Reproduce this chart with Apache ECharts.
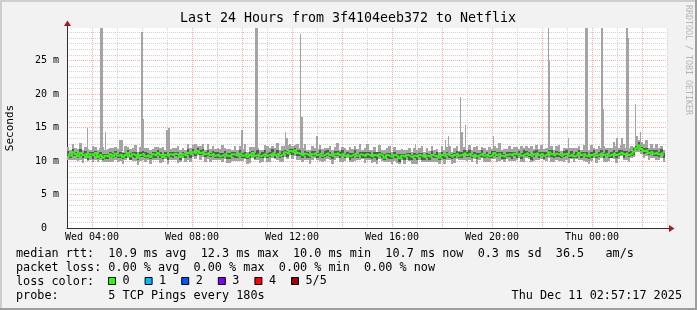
<!DOCTYPE html>
<html><head><meta charset="utf-8">
<script src="https://cdn.jsdelivr.net/npm/echarts@6/dist/echarts.min.js"></script>
<style>html,body{margin:0;padding:0;background:#f2f2f2}#c{width:697px;height:310px}</style>
</head><body><div id="c"></div><script>
// ---- time axis (hours of Wed, continuing past midnight) ----
const startHour = 3, endHour = 27;
const binHours = 0.09967;           // one smoke bin (~6 min)
const xLabelHours = [4, 8, 12, 16, 20, 24];
const xLabelTexts = ['Wed 04:00', 'Wed 08:00', 'Wed 12:00', 'Wed 16:00', 'Wed 20:00', 'Thu 00:00'];
const yMax = 29.85;
const yMajorStep = 5;
const yMinorStep = 5 / 6;

// ---- median rtt (ms) per bin ----
const medianRtt = [
 11.1,10.8,11.3,11.0,10.7,11.2,10.9,11.1,10.6,11.0,10.8,11.2,10.6,10.9,10.5,10.8,10.6,11.0,10.7,11.1,
 10.8,11.0,10.6,10.9,11.2,10.7,11.0,10.8,10.5,10.9,11.1,10.7,10.9,10.6,11.0,10.8,11.2,10.9,10.6,10.9,
 10.7,11.0,10.8,11.1,10.9,10.6,11.0,10.8,11.2,11.0,11.3,11.1,11.5,11.2,11.4,11.0,11.2,10.9,11.1,10.8,
 11.0,10.7,10.9,11.1,10.8,10.6,11.0,10.9,10.7,11.1,10.8,11.0,10.6,10.9,11.2,10.8,11.0,10.7,10.9,11.1,
 10.8,11.0,11.2,10.9,11.1,10.8,11.0,11.3,11.1,11.5,11.3,11.6,11.2,11.0,10.8,11.1,10.9,10.7,11.0,11.2,
 10.9,11.1,10.8,11.0,11.2,10.9,10.7,11.0,11.2,10.9,11.1,10.8,11.0,10.7,10.9,11.1,10.8,11.0,10.9,10.7,
 11.0,10.8,10.6,10.9,10.7,11.0,10.8,10.5,10.9,10.7,10.6,10.9,10.7,10.4,10.8,10.6,10.9,10.7,10.5,10.8,
 10.6,10.9,10.7,10.5,10.8,10.6,10.9,10.7,10.8,10.5,10.9,10.7,11.0,10.8,10.6,10.9,11.1,10.8,11.0,11.2,
 10.9,11.1,10.8,11.0,10.7,10.9,11.1,10.8,11.0,10.7,10.9,11.2,10.9,11.1,10.8,10.6,10.9,11.0,10.8,11.1,
 10.9,11.1,10.8,11.0,11.2,10.9,10.7,11.0,11.2,10.9,11.1,10.8,11.0,11.3,11.0,10.8,11.1,10.9,10.7,11.0,
 11.1,10.8,11.0,10.7,10.9,11.2,10.9,11.1,10.8,10.6,10.9,11.1,10.8,11.0,11.2,10.9,11.1,10.8,11.0,11.2,
 10.9,11.1,11.3,11.0,11.2,10.9,11.1,11.4,11.9,12.3,11.8,11.5,11.6,11.2,11.4,11.1,11.3,11.0,11.2,10.9
];
// ---- smoke: fastest ping (ms) ----
const pingMin = [
 10.2,10.1,10.2,10.2,10.0,10.2,9.7,10.3,10.0,10.1,9.8,10.1,9.9,10.1,9.9,9.8,9.8,9.9,9.8,10.1,
 9.9,10.0,9.5,10.2,10.4,10.1,10.0,10.0,9.4,10.0,10.1,9.8,10.2,9.5,10.2,10.1,10.2,9.7,9.8,10.3,
 9.6,10.2,10.1,10.1,9.7,9.8,10.4,9.9,10.2,9.9,10.6,10.3,10.9,10.2,10.6,9.9,10.3,9.9,10.2,10.1,
 10.2,10.1,9.9,10.3,9.7,9.7,10.0,10.0,10.0,10.0,10.0,10.3,9.6,9.7,10.4,10.2,10.1,9.7,9.8,10.4,
 9.8,9.8,10.4,10.3,10.2,9.8,9.9,10.6,10.3,10.9,10.3,10.8,10.1,10.1,9.8,10.2,10.2,9.6,10.2,10.5,
 10.1,10.0,9.9,10.0,10.3,10.2,9.6,10.2,10.5,9.9,9.9,10.0,10.4,9.8,9.9,10.0,10.1,10.2,10.3,9.7,
 10.2,10.2,9.7,9.9,9.6,10.3,10.0,9.9,9.9,9.9,9.5,10.0,9.7,9.5,10.1,9.5,10.1,10.0,9.5,9.6,
 9.5,10.2,9.9,9.9,9.8,9.8,9.8,9.8,9.8,9.6,10.2,9.6,10.2,10.1,9.6,9.7,10.3,10.2,10.1,10.2,
 10.0,10.1,9.9,10.3,9.6,10.1,10.4,9.8,9.8,9.9,10.3,10.3,9.9,10.0,10.1,9.8,10.3,10.0,10.0,10.0,
 10.1,10.4,9.8,9.8,10.4,10.3,9.8,10.0,10.1,10.2,10.3,10.2,10.0,10.5,9.9,9.9,10.1,10.0,10.0,9.9,
 10.1,9.7,10.3,9.9,10.3,10.2,10.1,10.0,9.9,9.6,10.0,10.4,9.7,10.2,10.5,9.9,9.9,10.0,10.4,10.3,
 9.7,10.3,10.7,10.1,10.2,9.8,10.4,10.6,11.3,11.3,11.0,10.4,10.7,10.2,10.5,10.4,10.2,10.2,10.5,9.9
];
// ---- smoke: 2nd ping ----
const pingLow = [
 10.8,10.4,10.8,10.7,10.4,10.8,10.4,10.8,10.2,10.7,10.3,10.8,10.3,10.5,10.2,10.3,10.3,10.6,10.4,10.6,
 10.4,10.5,10.3,10.5,10.9,10.2,10.6,10.5,10.1,10.6,10.6,10.4,10.5,10.3,10.5,10.5,10.8,10.4,10.3,10.6,
 10.2,10.6,10.5,10.7,10.6,10.1,10.7,10.4,10.9,10.5,11.0,10.7,11.0,10.9,11.1,10.6,10.7,10.6,10.7,10.5,
 10.5,10.4,10.5,10.8,10.3,10.3,10.6,10.4,10.4,10.8,10.4,10.5,10.3,10.5,10.9,10.3,10.6,10.4,10.5,10.8,
 10.5,10.6,10.9,10.4,10.7,10.5,10.6,11.0,10.6,11.2,10.9,11.3,10.7,10.7,10.5,10.7,10.4,10.4,10.7,10.8,
 10.4,10.8,10.5,10.6,10.7,10.6,10.3,10.7,10.7,10.5,10.8,10.4,10.7,10.2,10.5,10.8,10.4,10.7,10.4,10.4,
 10.5,10.5,10.3,10.5,10.2,10.7,10.4,10.2,10.4,10.3,10.3,10.5,10.4,9.9,10.5,10.2,10.6,10.2,10.2,10.4,
 10.2,10.6,10.2,10.2,10.4,10.1,10.6,10.4,10.4,10.2,10.4,10.3,10.7,10.4,10.3,10.4,10.8,10.4,10.5,10.9,
 10.6,10.6,10.4,10.7,10.3,10.6,10.6,10.5,10.6,10.4,10.4,10.8,10.6,10.7,10.3,10.3,10.6,10.6,10.3,10.8,
 10.5,10.8,10.3,10.7,10.8,10.6,10.2,10.6,10.9,10.5,10.8,10.3,10.6,11.0,10.6,10.5,10.6,10.6,10.4,10.6,
 10.8,10.4,10.5,10.4,10.5,10.9,10.4,10.8,10.4,10.3,10.4,10.7,10.5,10.6,10.9,10.4,10.8,10.4,10.5,10.9,
 10.4,10.8,10.9,10.5,10.9,10.6,10.7,10.9,11.6,11.9,11.5,11.0,11.2,10.9,11.0,10.8,10.8,10.6,10.9,10.5
];
// ---- smoke: 4th ping ----
const pingHigh = [
 11.5,11.1,11.8,11.3,11.1,11.8,11.2,11.5,11.1,11.3,11.3,11.5,11.0,11.3,11.1,11.1,11.1,11.3,11.2,11.5,
 11.1,11.4,11.2,11.2,11.6,11.2,11.3,11.3,10.8,11.3,11.5,11.3,11.2,11.1,11.3,11.3,11.6,11.3,10.9,11.4,
 11.0,11.4,11.3,11.4,11.4,10.9,11.4,11.2,11.8,11.3,11.8,11.4,12.0,11.6,11.8,11.3,11.7,11.2,11.5,11.4,
 11.3,11.2,11.2,11.5,11.2,11.2,11.3,11.4,11.0,11.6,11.2,11.4,10.9,11.4,11.5,11.2,11.6,11.0,11.3,11.6,
 11.2,11.4,11.8,11.2,11.6,11.1,11.5,11.7,11.5,11.8,11.8,11.9,11.6,11.6,11.1,11.5,11.4,11.0,11.5,11.5,
 11.2,11.6,11.1,11.5,11.6,11.3,11.0,11.5,11.5,11.3,11.7,11.1,11.4,11.2,11.2,11.6,11.1,11.4,11.3,11.3,
 11.3,11.3,10.9,11.3,11.3,11.3,11.2,11.0,11.2,11.2,10.9,11.3,11.1,11.0,11.1,11.1,11.2,11.2,10.9,11.2,
 11.1,11.2,11.2,10.8,11.2,11.0,11.5,11.0,11.3,10.8,11.4,11.1,11.4,11.1,11.1,11.2,11.5,11.4,11.3,11.6,
 11.3,11.7,11.1,11.4,11.2,11.2,11.6,11.1,11.4,11.1,11.5,11.5,11.4,11.4,11.3,11.0,11.3,11.3,11.3,11.4,
 11.2,11.5,11.2,11.6,11.5,11.4,11.0,11.5,11.6,11.3,11.4,11.3,11.3,11.7,11.6,11.1,11.5,11.4,11.0,11.5,
 11.7,11.1,11.5,11.0,11.4,11.6,11.3,11.4,11.3,10.9,11.3,11.7,11.1,11.4,11.7,11.2,11.6,11.1,11.4,11.6,
 11.3,11.6,11.6,11.5,11.5,11.3,11.5,12.0,12.2,12.8,12.1,12.0,12.0,11.6,11.7,11.6,11.6,11.4,11.8,11.2
];
// ---- smoke: slowest ping (ms) ----
const pingMax = [
 12.1,11.6,12.6,11.9,11.8,12.7,11.7,12.1,11.8,11.7,12.2,12.1,11.7,11.9,12.1,11.6,11.8,11.9,12.0,12.1,
 11.8,12.2,11.3,12.3,12.1,11.8,12.0,12.4,11.3,12.1,12.0,12.0,11.9,11.6,11.8,12.1,12.1,12.0,12.1,11.7,
 12.3,11.8,12.0,12.0,12.2,11.6,12.0,11.6,12.5,11.9,12.4,12.6,12.3,12.2,12.6,11.7,12.6,11.8,12.2,11.8,
 11.9,11.8,12.4,11.9,11.8,11.8,11.7,12.3,11.6,12.2,11.8,12.6,11.4,12.1,12.1,12.1,12.0,11.7,11.7,12.4,
 12.2,11.9,12.3,11.9,12.7,11.6,12.2,12.2,12.4,12.5,12.3,12.4,12.5,11.9,11.9,12.6,11.7,11.7,12.2,11.9,
 11.8,12.4,11.8,12.0,12.0,12.2,11.6,12.1,12.7,11.7,12.1,12.0,11.7,12.1,11.8,12.2,11.8,12.6,11.7,11.9,
 12.5,11.6,11.6,12.1,11.4,12.4,11.7,11.6,11.9,12.3,11.4,12.1,11.6,11.7,11.8,11.6,11.7,12.0,11.4,11.9,
 11.7,11.9,12.3,11.3,12.0,11.5,12.2,11.7,11.8,11.3,12.2,11.6,12.1,12.3,11.4,11.9,12.3,11.5,12.4,12.1,
 11.7,12.4,11.7,12.1,12.2,11.7,12.1,12.0,11.7,12.1,11.8,12.3,11.9,12.7,11.6,11.8,11.8,12.3,11.8,12.1,
 12.1,11.8,12.2,11.9,12.3,11.9,12.3,11.8,12.4,11.8,12.4,11.8,12.0,12.1,12.3,11.7,12.2,12.4,11.5,12.0,
 11.9,12.0,11.9,12.0,11.9,12.2,11.7,12.4,11.7,11.7,12.4,11.9,11.8,12.2,11.9,12.3,12.0,11.9,12.0,12.8,
 12.2,12.0,12.4,12.5,12.0,11.9,12.3,12.1,13.3,13.2,12.9,12.5,13.2,12.0,12.6,12.0,12.6,12.0,12.2,11.7
];
// ---- isolated slow pings: [from hour, to hour, rtt ms] ----
const spikes = [
 [3.78,3.82,14.9],[4.32,4.44,29.85],[4.52,4.56,14.3],[5.08,5.24,13.1],
 [5.97,6.03,29.2],[6.03,6.08,16.3],[6.95,7.04,14.6],[7.04,7.10,14.9],
 [9.97,10.03,14.6],[10.52,10.63,29.85],[11.72,11.77,14.3],[11.77,11.83,13.5],
 [12.32,12.37,29.0],[12.37,12.44,16.5],[12.96,13.04,13.8],[16.92,16.96,12.5],
 [18.12,18.16,13.1],[18.24,18.28,13.7],[18.72,18.77,19.5],[18.77,18.84,14.3],
 [18.92,18.96,15.3],[20.03,20.08,13.7],[22.23,22.29,29.85],[22.29,22.33,24.9],
 [23.03,23.08,13.5],[23.71,23.84,29.85],[24.36,24.44,29.85],[24.44,24.48,17.7],
 [24.95,25.05,13.4],[25.15,25.24,13.4],[25.36,25.44,29.85],[25.44,25.49,28.4],
 [25.71,25.76,18.5],[25.76,25.84,13.8],[25.92,25.97,14.3],[26.16,26.24,13.1]
];
const spikeBase = 11.5;
// ---- legend / statistics ----
const lossLabels = ['0','1','2','3','4','5/5'];
const lossColors = ['#26ff00','#00b8ff','#0059ff','#7e00ff','#ff0000','#a10000'];
const rttStats = [10.9, 12.3, 10.0, 10.7, 0.3, 36.5]; // avg max min now sd am/s
const lossStats = [0, 0, 0, 0];                        // avg max min now
const titleText = 'Last 24 Hours from 3f4104eeb372 to Netflix';
const probeText = '5 TCP Pings every 180s';
const dateText = 'Thu Dec 11 02:57:17 2025';

// ---- build ----
const MONO = '"DejaVu Sans Mono", monospace';
const binStart = medianRtt.map((_, i) => startHour + i * binHours);
const outerRows = binStart.map((t, i) => [t, t + binHours, pingMin[i], pingMax[i]]);
const innerRows = binStart.map((t, i) => [t, t + binHours, pingLow[i], pingHigh[i]]);
const spikeRows = spikes.map(s => [s[0], s[1], spikeBase, s[2]]);
const medianRows = binStart.map((t, i) => [t + binHours / 2, medianRtt[i]]);

function rectItem(params, api) {
  const a = api.coord([api.value(0), api.value(3)]);
  const b = api.coord([api.value(1), api.value(2)]);
  const x0 = Math.round(a[0]), x1 = Math.round(b[0]);
  const y0 = Math.round(a[1]), y1 = Math.round(b[1]);
  return { type: 'rect', shape: { x: x0, y: y0, width: Math.max(1, x1 - x0), height: Math.max(1, y1 - y0) },
           style: { fill: api.visual('color') } };
}
const f1 = v => v.toFixed(1), f2 = v => v.toFixed(2);
const line1 = 'median rtt:  ' + f1(rttStats[0]) + ' ms avg  ' + f1(rttStats[1]) + ' ms max  ' + f1(rttStats[2]) +
  ' ms min  ' + f1(rttStats[3]) + ' ms now  ' + f1(rttStats[4]) + ' ms sd  ' + f1(rttStats[5]) + '   am/s';
const line2 = 'packet loss: ' + f2(lossStats[0]) + ' % avg  ' + f2(lossStats[1]) + ' % max  ' + f2(lossStats[2]) +
  ' % min  ' + f2(lossStats[3]) + ' % now';
const line4 = 'probe:       ' + probeText;

const chart = echarts.init(document.getElementById('c'), null, { renderer: 'canvas' });
const series = [
  { type: 'custom', name: 'spikes', renderItem: rectItem, data: spikeRows, itemStyle: { color: '#a4a4a4' }, silent: true, clip: true },
  { type: 'custom', name: 'outer', renderItem: rectItem, data: outerRows, itemStyle: { color: '#a4a4a4' }, silent: true, clip: true },
  { type: 'custom', name: 'inner', renderItem: rectItem, data: innerRows, itemStyle: { color: '#585858' }, silent: true, clip: true },
  { type: 'line', name: lossLabels[0], data: medianRows, showSymbol: false, symbol: 'none', step: 'middle',
    lineStyle: { color: lossColors[0], width: 2 }, itemStyle: { color: lossColors[0] }, silent: true }
];
for (let i = 1; i < lossLabels.length; i++) {
  series.push({ type: 'line', name: lossLabels[i], data: [], itemStyle: { color: lossColors[i] }, lineStyle: { color: lossColors[i] } });
}

const RED = '#ffa8a8', GREY = '#d2d2d2';
chart.setOption({
  animation: false,
  backgroundColor: '#f2f2f2',
  grid: { left: 67, top: 28, width: 600, height: 200, show: true, backgroundColor: '#ffffff', borderWidth: 0 },
  legend: {
    data: lossLabels, left: 108, top: 275, padding: 0, itemGap: 15, itemWidth: 7, itemHeight: 7,
    icon: 'rect', selectedMode: false,
    itemStyle: { borderColor: '#000', borderWidth: 1 },
    textStyle: { fontFamily: MONO, fontSize: 11.8, color: '#000', padding: [0, 0, 0, 2] }
  },
  xAxis: [
    { type: 'value', position: 'bottom', min: startHour, max: endHour, interval: 1,
      axisLine: { show: true, onZero: false, lineStyle: { color: '#303030', width: 1 } },
      axisTick: { show: false },
      axisLabel: { margin: 4, fontFamily: MONO, fontSize: 10, color: '#000', hideOverlap: false,
        formatter: v => { const k = xLabelHours.indexOf(Math.round(v)); return k >= 0 ? xLabelTexts[k] : ''; } },
      // hourly grid: odd hours grey, even hours red (colours alternate from 03:00)
      splitLine: { show: true, showMinLine: true, showMaxLine: true, lineStyle: { color: [GREY, RED], type: [1, 1], width: 1 } } }
  ],
  yAxis: [
    { type: 'value', position: 'left', min: 0, max: yMax, interval: yMajorStep, z: 1,
      axisLine: { show: true, lineStyle: { color: '#303030', width: 1 } },
      axisTick: { show: false },
      axisLabel: { margin: 8, fontFamily: MONO, fontSize: 10, color: '#000', showMaxLabel: false,
        formatter: v => (v === 0 ? '0  ' : (Math.abs(v % yMajorStep) < 1e-6 ? Math.round(v) + ' m' : '')) },
      splitLine: { show: true, showMinLine: false, showMaxLine: false, lineStyle: { color: RED, type: [1, 1], width: 1 } } },
    { type: 'value', position: 'right', min: 0, max: yMax, interval: yMinorStep, z: 0,
      axisLine: { show: false }, axisTick: { show: false }, axisLabel: { show: false },
      splitLine: { show: true, showMinLine: false, showMaxLine: false, lineStyle: { color: GREY, type: [1, 1], width: 1 } } }
  ],
  series: series
});

const pTop = chart.convertToPixel({ seriesIndex: 0 }, [startHour, yMax]);
const pEnd = chart.convertToPixel({ seriesIndex: 0 }, [endHour, 0]);
const ax = Math.round(pTop[0]) + 0.5, ay = Math.round(pTop[1]);
const ex = Math.round(pEnd[0]), ey = Math.round(pEnd[1]) + 0.5;
const txt = (text, x, y, font, opts) => Object.assign({ type: 'text', x: x, y: y, silent: true,
  style: Object.assign({ text: text, font: font, fill: '#000', align: 'left', textAlign: 'left', verticalAlign: 'middle', textVerticalAlign: 'middle' }, (opts && opts.style) || {}) },
  opts && opts.rotation !== undefined ? { rotation: opts.rotation } : {});

chart.setOption({
  graphic: { elements: [
    { type: 'rect', shape: { x: 0, y: 0, width: 697, height: 2 }, style: { fill: '#cecece' }, silent: true },
    { type: 'rect', shape: { x: 0, y: 0, width: 2, height: 310 }, style: { fill: '#cecece' }, silent: true },
    { type: 'rect', shape: { x: 0, y: 308, width: 697, height: 2 }, style: { fill: '#9e9e9e' }, silent: true },
    { type: 'rect', shape: { x: 695, y: 0, width: 2, height: 310 }, style: { fill: '#9e9e9e' }, silent: true },
    { type: 'line', shape: { x1: ax, y1: ay, x2: ax, y2: ay - 3 }, style: { stroke: '#303030', lineWidth: 1 }, silent: true },
    { type: 'polygon', shape: { points: [[ax - 3.5, ay - 2], [ax + 3.5, ay - 2], [ax, ay - 7.5]] }, style: { fill: '#9c1c1c' }, silent: true },
    { type: 'line', shape: { x1: ex, y1: ey, x2: ex + 3, y2: ey }, style: { stroke: '#303030', lineWidth: 1 }, silent: true },
    { type: 'polygon', shape: { points: [[ex + 2, ey - 3.5], [ex + 2, ey + 3.5], [ex + 7.5, ey]] }, style: { fill: '#9c1c1c' }, silent: true },
    txt(titleText, 348, 19, '13.3px ' + MONO, { style: { align: 'center', textAlign: 'center' } }),
    txt('Seconds', 10, 128, '11px ' + MONO, { rotation: Math.PI / 2, style: { align: 'center', textAlign: 'center' } }),
    txt('RRDTOOL / TOBI OETIKER', 688, 60, '8.3px ' + MONO, { rotation: -Math.PI / 2, style: { fill: '#b4b4b4', align: 'center', textAlign: 'center' } }),
    txt(line1, 16, 254, '11.8px ' + MONO),
    txt(line2, 16, 268, '11.8px ' + MONO),
    txt('loss color:', 16, 282, '11.8px ' + MONO),
    txt(line4, 16, 296, '11.8px ' + MONO),
    txt(dateText, 682, 296, '11.8px ' + MONO, { style: { align: 'right', textAlign: 'right' } })
  ] }
});
</script></body></html>
